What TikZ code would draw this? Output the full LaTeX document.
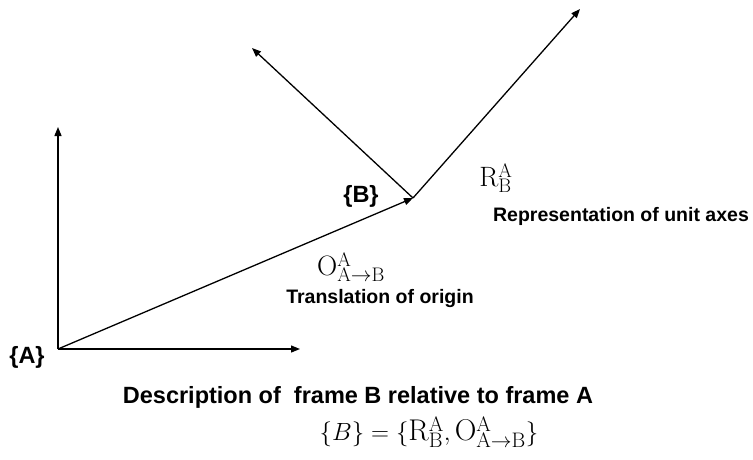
\documentclass[tikz,border=0pt]{standalone}
\usepackage{fontspec}
\setsansfont{Liberation Sans}
\usetikzlibrary{arrows.meta,positioning}

\begin{document}
\begin{tikzpicture}[x=1pt, y=-1pt,
    axis/.style={-{Triangle[length=9pt, width=7pt]}, line width=1.3pt},
    lbl/.style={font=\fontsize{19.5}{23}\selectfont\sffamily\bfseries, text=black},
    big/.style={font=\fontsize{23.5}{28}\selectfont\sffamily\bfseries, text=black},
    eq/.style={font=\fontsize{28}{32}\selectfont},
]
\useasboundingbox (0,0) rectangle (753,459);

% Frame A
\coordinate (oA) at (58,349);
\coordinate (yA) at (58,127);
\coordinate (xA) at (300,349);

% Frame B
\coordinate (oB) at (413,198);
\coordinate (yB) at (252,48);
\coordinate (xB) at (580,9);

\draw[axis] (oA) -- (yA);
\draw[axis] (oA) -- (xA);
\draw[axis] (oA) -- (oB);
\draw[axis] (oB) -- (yB);
\draw[axis] (oB) -- (xB);

% Frame names
\node[big] (nameA) at (27,357) {\{A\}};
\node[big] (nameB) at (361,196) {\{B\}};

% Rotation
\node[eq] (rot) at (496,178) {$\mathrm{R}^{\mathrm{A}}_{\mathrm{B}}$};
\node[lbl] (rottxt) at (621,216) {Representation of unit axes};

% Translation
\node[eq] (trans) at (351,267) {$\mathrm{O}^{\mathrm{A}}_{\mathrm{A}\rightarrow\mathrm{B}}$};
\node[lbl] (transtxt) at (380,298) {Translation of origin};

% Summary
\node[big] (desc) at (358,397) {Description of \ frame B relative to frame A};
\node[eq, font=\fontsize{30}{34}\selectfont] (summary) at (429,432) {$\{B\} = \{\mathrm{R}^{\mathrm{A}}_{\mathrm{B}}, \mathrm{O}^{\mathrm{A}}_{\mathrm{A}\rightarrow\mathrm{B}}\}$};
\end{tikzpicture}
\end{document}
